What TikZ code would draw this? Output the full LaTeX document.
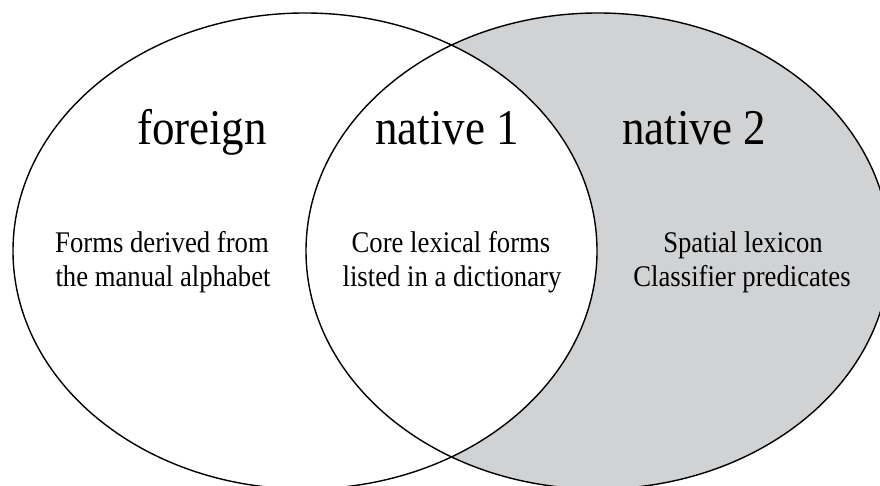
\documentclass[tikz,border=0pt]{standalone}
\usepackage{fontspec}
\setmainfont{Liberation Serif}
\definecolor{venngray}{RGB}{209,210,212}
\begin{document}
\begin{tikzpicture}[x=1pt,y=1pt,
  title/.style={anchor=base,inner sep=0pt,font=\fontsize{50}{58}\selectfont},
  body/.style={anchor=base,inner sep=0pt,font=\fontsize{30}{34}\selectfont},
  outline/.style={line width=1.4pt}]
\useasboundingbox (0,0) rectangle (880,486);
\begin{scope}
\clip (0,0) rectangle (880,486);
\fill[venngray] (598,235) ellipse [x radius=292, y radius=238];
\fill[white] (305,235) ellipse [x radius=292, y radius=238];
\draw[outline] (598,235) ellipse [x radius=292, y radius=238];
\draw[outline] (305,235) ellipse [x radius=292, y radius=238];
\end{scope}
\node[title] (t1) at (202,341) {\scalebox{0.9}[1]{foreign}};
\node[title] (t2) at (447,341) {\scalebox{0.9}[1]{native 1}};
\node[title] (t3) at (694,341) {\scalebox{0.9}[1]{native 2}};
\node[body] (a1) at (162,233) {\scalebox{0.89}[1]{Forms derived from}};
\node[body] (a2) at (163,199) {\scalebox{0.89}[1]{the manual alphabet}};
\node[body] (b1) at (451,233) {\scalebox{0.89}[1]{Core lexical forms}};
\node[body] (b2) at (452,199) {\scalebox{0.89}[1]{listed in a dictionary}};
\node[body] (c1) at (743,233) {\scalebox{0.89}[1]{Spatial lexicon}};
\node[body] (c2) at (742,199) {\scalebox{0.89}[1]{Classifier predicates}};
\end{tikzpicture}
\end{document}
